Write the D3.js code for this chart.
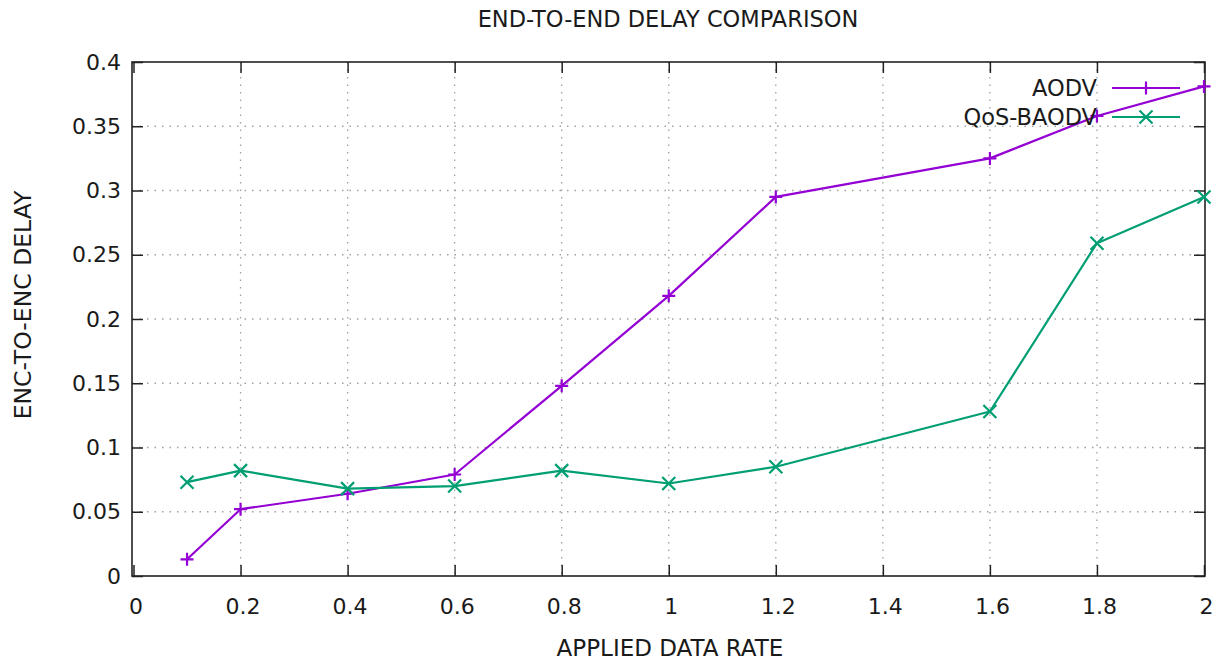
<!DOCTYPE html>
<html>
<head>
<meta charset="utf-8">
<script src="https://cdn.jsdelivr.net/npm/d3@7"></script>
<style>
  html, body { margin: 0; padding: 0; background: #fff; }
  svg { display: block; }
  text { font-family: "DejaVu Sans", Verdana, sans-serif; fill: #1a1a1a; }
</style>
</head>
<body>
<svg id="chart" width="1224" height="661"></svg>
<script>
// Applied data rates and measured end-to-end delay for each protocol
const rates = [0.1, 0.2, 0.4, 0.6, 0.8, 1.0, 1.2, 1.6, 1.8, 2.0];
const aodvDelay = [0.013, 0.052, 0.064, 0.079, 0.148, 0.218, 0.295, 0.325, 0.358, 0.381];
const qosBaodvDelay = [0.073, 0.082, 0.068, 0.070, 0.082, 0.072, 0.085, 0.128, 0.259, 0.295];
const xTicks = [0, 0.2, 0.4, 0.6, 0.8, 1, 1.2, 1.4, 1.6, 1.8, 2];
const yTicks = [0, 0.05, 0.1, 0.15, 0.2, 0.25, 0.3, 0.35, 0.4];
const seriesNames = ["AODV", "QoS-BAODV"];

const svg = d3.select("#chart");
const plotL = 132, plotR = 1205, plotT = 62, plotB = 576;

const x = d3.scaleLinear().domain([0, 2]).range([plotL + 1.5, plotR - 1]);
const y = d3.scaleLinear().domain([0, 0.4]).range([plotB, plotT]);

const fmt = v => String(+v.toFixed(2));

// dotted grid
const grid = svg.append("g").attr("stroke", "#a0a0a0").attr("stroke-width", 1.3)
  .attr("stroke-dasharray", "1.5,6");
grid.selectAll("line.gx").data(xTicks.slice(1, -1)).join("line")
  .attr("x1", d => x(d)).attr("x2", d => x(d)).attr("y1", plotT).attr("y2", plotB);
grid.selectAll("line.gy").data(yTicks.slice(1, -1)).join("line")
  .attr("y1", d => y(d)).attr("y2", d => y(d)).attr("x1", plotL).attr("x2", plotR);

// axes with inward ticks, mirrored on top and right
const tickLen = 11;
const axB = d3.axisBottom(x).tickValues(xTicks).tickSize(-tickLen).tickPadding(22).tickFormat(fmt);
const axT = d3.axisTop(x).tickValues(xTicks).tickSize(-tickLen).tickFormat("");
const axL = d3.axisLeft(y).tickValues(yTicks).tickSize(-tickLen).tickPadding(11).tickFormat(fmt);
const axR = d3.axisRight(y).tickValues(yTicks).tickSize(-tickLen).tickFormat("");

function style(g) {
  g.select(".domain").remove();
  g.selectAll(".tick line").attr("stroke", "#222").attr("stroke-width", 1.5);
  g.selectAll(".tick text").attr("font-size", 22).attr("fill", "#1a1a1a")
    .attr("font-family", "\"DejaVu Sans\", Verdana, sans-serif");
}
svg.append("g").attr("transform", `translate(0,${plotB})`).call(axB).call(style)
  .selectAll(".tick text").attr("dx", 2);
svg.append("g").attr("transform", `translate(0,${plotT})`).call(axT).call(style);
svg.append("g").attr("transform", `translate(${plotL},0)`).call(axL).call(style);
svg.append("g").attr("transform", `translate(${plotR},0)`).call(axR).call(style);

// frame
svg.append("rect").attr("x", plotL).attr("y", plotT).attr("width", plotR - plotL).attr("height", plotB - plotT)
  .attr("fill", "none").attr("stroke", "#222").attr("stroke-width", 1.6);

// titles
svg.append("text").attr("x", 668).attr("y", 27).attr("text-anchor", "middle")
  .attr("font-size", 22.5).text("END-TO-END DELAY COMPARISON");
svg.append("text").attr("x", 670).attr("y", 656).attr("text-anchor", "middle")
  .attr("font-size", 23).text("APPLIED DATA RATE");
svg.append("text").attr("transform", "translate(31,305) rotate(-90)")
  .attr("text-anchor", "middle").attr("font-size", 23.5).text("ENC-TO-ENC DELAY");

const colors = ["#9400d3", "#009e73"];
const data = [aodvDelay, qosBaodvDelay];
const ms = 6.5;

function drawMarker(g, cx, cy, kind, color) {
  const p = kind === 0
    ? `M${cx - ms},${cy}H${cx + ms}M${cx},${cy - ms}V${cy + ms}`
    : `M${cx - ms},${cy - ms}L${cx + ms},${cy + ms}M${cx - ms},${cy + ms}L${cx + ms},${cy - ms}`;
  g.append("path").attr("d", p).attr("stroke", color).attr("stroke-width", 2.2).attr("fill", "none");
}

const line = d3.line().x(d => x(d[0])).y(d => y(d[1]));

data.forEach((vals, i) => {
  const pts = rates.map((r, j) => [r, vals[j]]);
  const g = svg.append("g");
  g.append("path").datum(pts).attr("d", line).attr("fill", "none")
    .attr("stroke", colors[i]).attr("stroke-width", 2.2).attr("stroke-linejoin", "round");
  pts.forEach(p => drawMarker(g, x(p[0]), y(p[1]), i, colors[i]));
});

// legend
const legX1 = 1112, legX2 = 1180;
seriesNames.forEach((name, i) => {
  const ly = 88 + i * 29;
  const g = svg.append("g");
  g.append("text").attr("x", 1097).attr("y", ly + 8).attr("text-anchor", "end")
    .attr("font-size", 22.5).text(name);
  g.append("line").attr("x1", legX1).attr("x2", legX2).attr("y1", ly).attr("y2", ly)
    .attr("stroke", colors[i]).attr("stroke-width", 2.2);
  drawMarker(g, (legX1 + legX2) / 2, ly, i, colors[i]);
});
</script>
</body>
</html>
